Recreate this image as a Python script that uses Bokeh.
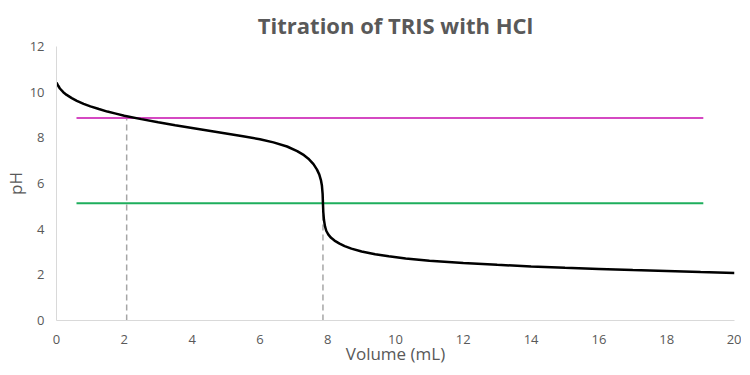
from bokeh.plotting import figure
from bokeh.models import Range1d, FixedTicker, Title
from bokeh.embed import file_html
from bokeh.resources import INLINE

# Data
volume = [0, 0.05, 0.1, 0.2, 0.3, 0.45, 0.6, 0.8, 1.0, 1.25, 1.5, 1.75, 2, 2.5, 3, 3.5, 4,
          4.5, 5, 5.5, 6, 6.4, 6.8, 7.1, 7.3, 7.45, 7.58, 7.68, 7.75, 7.8, 7.83, 7.85, 7.86,
          7.87, 7.89, 7.92, 7.96, 8.02, 8.1, 8.2, 8.35, 8.5, 8.7, 9, 9.4, 9.8, 10.3, 11, 12,
          13, 14, 15, 16, 17, 18, 19, 20]
ph = [10.42, 10.28, 10.16, 10.0, 9.88, 9.74, 9.62, 9.49, 9.38, 9.26, 9.15, 9.06, 8.97, 8.82,
      8.68, 8.55, 8.43, 8.31, 8.19, 8.07, 7.94, 7.8, 7.62, 7.42, 7.24, 7.06, 6.85, 6.62, 6.4,
      6.15, 5.9, 5.55, 5.13, 4.75, 4.4, 4.12, 3.92, 3.76, 3.62, 3.5, 3.37, 3.26, 3.15, 3.02,
      2.9, 2.81, 2.72, 2.62, 2.52, 2.44, 2.37, 2.31, 2.26, 2.21, 2.17, 2.12, 2.08]

pka_ph = 8.87        # magenta horizontal line
equiv_ph = 5.13      # green horizontal line
hline_x = [0.59, 19.08]
half_equiv_v = 2.07
equiv_v = 7.86

x_ticks = list(range(0, 21, 2))
y_ticks = list(range(0, 13, 2))

TEXT = "#595959"
FONT = "Open Sans"

p = figure(width=741, height=367, output_backend="svg", toolbar_location=None,
           x_range=Range1d(0, 20), y_range=Range1d(0, 12),
           min_border_left=10, min_border_right=7, min_border_bottom=10, min_border_top=10)

p.add_layout(Title(text="Titration of TRIS with HCl", align="center", text_font=FONT,
                   text_font_size="22px", text_font_style="bold", text_color=TEXT,
                   offset=0, standoff=14), "above")

p.grid.visible = False
p.outline_line_color = None

for ax in (p.xaxis, p.yaxis):
    ax.axis_line_color = "#D9D9D9"
    ax.major_tick_line_color = None
    ax.minor_tick_line_color = None
    ax.major_label_text_color = TEXT
    ax.major_label_text_font = FONT
    ax.major_label_text_font_size = "13px"
    ax.axis_label_text_color = TEXT
    ax.axis_label_text_font = FONT
    ax.axis_label_text_font_size = "17px"
    ax.axis_label_text_font_style = "normal"

p.xaxis.ticker = FixedTicker(ticks=x_ticks)
p.yaxis.ticker = FixedTicker(ticks=y_ticks)
p.xaxis.axis_label = "Volume (mL)"
p.yaxis.axis_label = "pH"
p.xaxis.major_label_standoff = 8
p.yaxis.major_label_standoff = 6
p.xaxis.axis_label_standoff = -5
p.yaxis.axis_label_standoff = 0

# dashed verticals
p.line([half_equiv_v, half_equiv_v], [0, pka_ph], line_color="#A6A6A6", line_width=1.5, line_dash="6 4")
p.line([equiv_v, equiv_v], [0, equiv_ph], line_color="#A6A6A6", line_width=1.5, line_dash="6 4")

# horizontal reference lines
p.line(hline_x, [pka_ph, pka_ph], line_color="#D548C2", line_width=2)
p.line(hline_x, [equiv_ph, equiv_ph], line_color="#1EAE5C", line_width=2)

# titration curve
p.line(volume, ph, line_color="black", line_width=2.5)

open("out.html", "w").write(file_html(p, INLINE))
